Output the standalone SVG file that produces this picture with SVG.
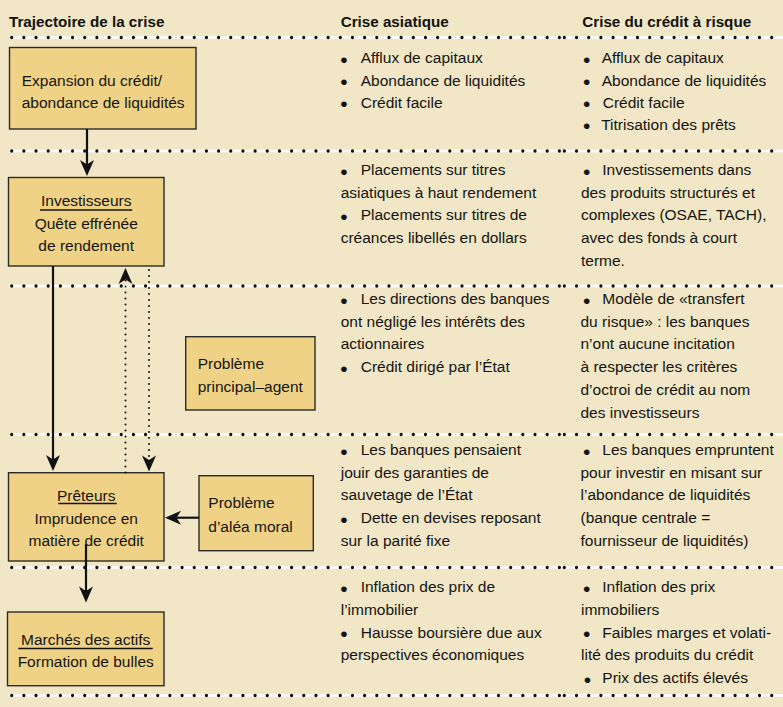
<svg xmlns="http://www.w3.org/2000/svg" width="783" height="707" viewBox="0 0 783 707">
<style>
.t{font-family:"Liberation Sans",Arial,sans-serif;font-size:15.5px;fill:#141414}
.b{font-size:21px}
.h{font-family:"Liberation Sans",Arial,sans-serif;font-size:15.2px;font-weight:bold;fill:#111}
.box{fill:#F0D287;stroke:#2a2a2a;stroke-width:1.4}
.ul{stroke:#141414;stroke-width:1.3}
.wl{stroke:#ffffff;stroke-width:2.6}
.dl{stroke:#111;stroke-width:3.3;stroke-linecap:round;stroke-dasharray:0 12.17}
.dr{stroke:#111;stroke-width:3.3;stroke-linecap:round;stroke-dasharray:0 12.2}
.c{stroke:#111;stroke-width:2.2;fill:none}
.cd{stroke:#111;stroke-width:2;fill:none;stroke-linecap:round;stroke-dasharray:0 6}
.mid{text-anchor:middle}
</style>
<defs>
<marker id="ah" markerUnits="userSpaceOnUse" markerWidth="16" markerHeight="14" refX="8" refY="7" orient="auto" overflow="visible">
<path d="M0,0 L16,7 L0,14 L4.5,7 Z" fill="#111"/>
</marker>
</defs>
<rect width="783" height="707" fill="#F1E6C5"/>

<g id="separators">
<line class="wl" x1="9" y1="37.5" x2="783" y2="37.5"/><line class="dl" x1="11.7" y1="37.5" x2="560" y2="37.5"/><line class="dr" x1="564.3" y1="37.5" x2="783" y2="37.5"/>
<line class="wl" x1="9" y1="151" x2="783" y2="151"/><line class="dl" x1="11.7" y1="151" x2="560" y2="151"/><line class="dr" x1="564.3" y1="151" x2="783" y2="151"/>
<line class="wl" x1="9" y1="286" x2="783" y2="286"/><line class="dl" x1="11.7" y1="286" x2="560" y2="286"/><line class="dr" x1="564.3" y1="286" x2="783" y2="286"/>
<line class="wl" x1="9" y1="434.5" x2="783" y2="434.5"/><line class="dl" x1="11.7" y1="434.5" x2="560" y2="434.5"/><line class="dr" x1="564.3" y1="434.5" x2="783" y2="434.5"/>
<line class="wl" x1="9" y1="567.5" x2="783" y2="567.5"/><line class="dl" x1="11.7" y1="567.5" x2="560" y2="567.5"/><line class="dr" x1="564.3" y1="567.5" x2="783" y2="567.5"/>
<line class="wl" x1="9" y1="695.5" x2="783" y2="695.5"/><line class="dl" x1="11.7" y1="695.5" x2="560" y2="695.5"/><line class="dr" x1="564.3" y1="695.5" x2="783" y2="695.5"/>
</g>

<g id="headers">
<text class="h" x="9" y="26.5">Trajectoire de la crise</text>
<text class="h" x="340.7" y="26.5">Crise asiatique</text>
<text class="h" x="582.3" y="26.5">Crise du crédit à risque</text>
</g>

<g id="node-expansion">
<rect class="box" x="9.5" y="47.5" width="186.5" height="81.5"/>
<text class="t" x="21.7" y="86">Expansion du crédit/</text>
<text class="t" x="21.7" y="107.5">abondance de liquidités</text>
</g>

<g id="node-investisseurs">
<rect class="box" x="8.5" y="177.5" width="155.5" height="88.5"/>
<text class="t mid" x="86.2" y="206">Investisseurs</text>
<line class="ul" x1="40" y1="210" x2="132.3" y2="210"/>
<text class="t mid" x="86.2" y="229">Quête effrénée</text>
<text class="t mid" x="86.2" y="250.5">de rendement</text>
</g>

<g id="node-principal-agent">
<rect class="box" x="185.7" y="336.7" width="129.3" height="73.3"/>
<text class="t" x="197.7" y="369.3">Problème</text>
<text class="t" x="197.7" y="391.7">principal–agent</text>
</g>

<g id="node-preteurs">
<rect class="box" x="8.5" y="472.7" width="155.5" height="88.3"/>
<text class="t mid" x="86.2" y="500.5">Prêteurs</text>
<line class="ul" x1="58.3" y1="503.5" x2="116.7" y2="503.5"/>
<text class="t mid" x="86.2" y="524">Imprudence en</text>
<text class="t mid" x="86.2" y="546">matière de crédit</text>
</g>

<g id="node-alea-moral">
<rect class="box" x="199" y="475.7" width="114.3" height="75"/>
<text class="t" x="208.3" y="508.3">Problème</text>
<text class="t" x="208.3" y="531.7">d’aléa moral</text>
</g>

<g id="node-marches">
<rect class="box" x="7.5" y="612" width="156.5" height="73.7"/>
<text class="t mid" x="85.7" y="645">Marchés des actifs</text>
<line class="ul" x1="18.3" y1="648.5" x2="152.7" y2="648.5"/>
<text class="t mid" x="85.7" y="666.7">Formation de bulles</text>
</g>

<g id="connectors">
<path class="c" d="M87,129 V168" marker-end="url(#ah)"/>
<path class="c" d="M53,266 V463" marker-end="url(#ah)"/>
<path class="cd" d="M125.5,472.5 V277"/>
<path d="M125.5,277 V276" fill="none" stroke="none" marker-end="url(#ah)"/>
<path class="cd" d="M149,270 V463.5"/>
<path d="M149,462.5 V463.5" fill="none" stroke="none" marker-end="url(#ah)"/>
<path class="c" d="M199,517.7 H173" marker-end="url(#ah)"/>
<path class="c" d="M86,544 V594.5" marker-end="url(#ah)"/>
</g>

<g id="col-asie">
<text class="t" y="63.3"><tspan class="b" x="340.3" dy="3.5">•</tspan><tspan x="360.7" dy="-3.5">Afflux de capitaux</tspan></text>
<text class="t" y="85.5"><tspan class="b" x="340.3" dy="3.5">•</tspan><tspan x="360.7" dy="-3.5">Abondance de liquidités</tspan></text>
<text class="t" y="107.7"><tspan class="b" x="340.3" dy="3.5">•</tspan><tspan x="360.7" dy="-3.5">Crédit facile</tspan></text>

<text class="t" y="175"><tspan class="b" x="340.3" dy="3.5">•</tspan><tspan x="360.7" dy="-3.5">Placements sur titres</tspan></text>
<text class="t" x="340.7" y="197.7">asiatiques à haut rendement</text>
<text class="t" y="220.4"><tspan class="b" x="340.3" dy="3.5">•</tspan><tspan x="360.7" dy="-3.5">Placements sur titres de</tspan></text>
<text class="t" x="340.7" y="243.1">créances libellés en dollars</text>

<text class="t" y="304"><tspan class="b" x="340.3" dy="3.5">•</tspan><tspan x="360.7" dy="-3.5">Les directions des banques</tspan></text>
<text class="t" x="340.7" y="326.7">ont négligé les intérêts des</text>
<text class="t" x="340.7" y="349.4">actionnaires</text>
<text class="t" y="372.1"><tspan class="b" x="340.3" dy="3.5">•</tspan><tspan x="360.7" dy="-3.5">Crédit dirigé par l’État</tspan></text>

<text class="t" y="455"><tspan class="b" x="340.3" dy="3.5">•</tspan><tspan x="360.7" dy="-3.5">Les banques pensaient</tspan></text>
<text class="t" x="340.7" y="477.7">jouir des garanties de</text>
<text class="t" x="340.7" y="500.4">sauvetage de l’État</text>
<text class="t" y="523.1"><tspan class="b" x="340.3" dy="3.5">•</tspan><tspan x="360.7" dy="-3.5">Dette en devises reposant</tspan></text>
<text class="t" x="340.7" y="545.8">sur la parité fixe</text>

<text class="t" y="592.3"><tspan class="b" x="340.3" dy="3.5">•</tspan><tspan x="360.7" dy="-3.5">Inflation des prix de</tspan></text>
<text class="t" x="340.7" y="615">l’immobilier</text>
<text class="t" y="637.7"><tspan class="b" x="340.3" dy="3.5">•</tspan><tspan x="360.7" dy="-3.5">Hausse boursière due aux</tspan></text>
<text class="t" x="340.7" y="660.4">perspectives économiques</text>
</g>

<g id="col-subprime">
<text class="t" y="63.3"><tspan class="b" x="583" dy="3.5">•</tspan><tspan x="601.7" dy="-3.5">Afflux de capitaux</tspan></text>
<text class="t" y="85.5"><tspan class="b" x="583" dy="3.5">•</tspan><tspan x="601.7" dy="-3.5">Abondance de liquidités</tspan></text>
<text class="t" y="107.7"><tspan class="b" x="583" dy="3.5">•</tspan><tspan x="602.7" dy="-3.5">Crédit facile</tspan></text>
<text class="t" y="129.9"><tspan class="b" x="583" dy="3.5">•</tspan><tspan x="601.2" dy="-3.5">Titrisation des prêts</tspan></text>

<text class="t" y="175"><tspan class="b" x="583" dy="3.5">•</tspan><tspan x="602.3" dy="-3.5">Investissements dans</tspan></text>
<text class="t" x="581" y="197.7">des produits structurés et</text>
<text class="t" x="581" y="220.4">complexes (OSAE, TACH),</text>
<text class="t" x="581" y="243.1">avec des fonds à court</text>
<text class="t" x="581" y="265.8">terme.</text>

<text class="t" y="304"><tspan class="b" x="583" dy="3.5">•</tspan><tspan x="602.3" dy="-3.5">Modèle de «transfert</tspan></text>
<text class="t" x="580.5" y="326.7">du risque» : les banques</text>
<text class="t" x="580.5" y="349.4">n’ont aucune incitation</text>
<text class="t" x="580.5" y="372.1">à respecter les critères</text>
<text class="t" x="580.5" y="394.8">d’octroi de crédit au nom</text>
<text class="t" x="580.5" y="417.5">des investisseurs</text>

<text class="t" y="455"><tspan class="b" x="583" dy="3.5">•</tspan><tspan x="602.3" dy="-3.5">Les banques empruntent</tspan></text>
<text class="t" x="580.5" y="477.7">pour investir en misant sur</text>
<text class="t" x="580.5" y="500.4">l’abondance de liquidités</text>
<text class="t" x="580.5" y="523.1">(banque centrale =</text>
<text class="t" x="580.5" y="545.8">fournisseur de liquidités)</text>

<text class="t" y="592.3"><tspan class="b" x="583" dy="3.5">•</tspan><tspan x="602.3" dy="-3.5">Inflation des prix</tspan></text>
<text class="t" x="581" y="615">immobiliers</text>
<text class="t" y="637.7"><tspan class="b" x="583" dy="3.5">•</tspan><tspan x="602.3" dy="-3.5">Faibles marges et volati-</tspan></text>
<text class="t" x="581" y="660.4">lité des produits du crédit</text>
<text class="t" y="683.1"><tspan class="b" x="583.7" dy="3.5">•</tspan><tspan x="602.3" dy="-3.5">Prix des actifs élevés</tspan></text>
</g>
</svg>
